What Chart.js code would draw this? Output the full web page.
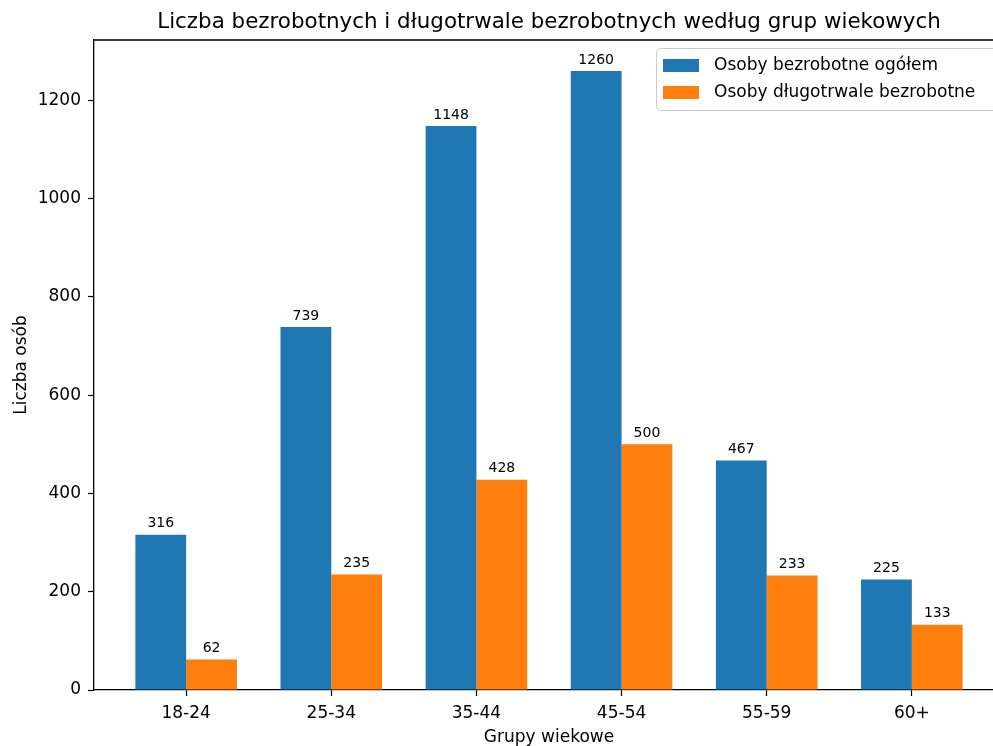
<!DOCTYPE html>
<html lang="pl">
<head>
<meta charset="UTF-8">
<title>Liczba bezrobotnych według grup wiekowych</title>
<script src="https://cdn.jsdelivr.net/npm/chart.js"></script>
<style>
    html, body { margin: 0; padding: 0; background: #fff; overflow: hidden; }
    .wrap { width: 1010px; height: 746px; }
</style>
</head>
<body>
<div class="wrap"><canvas id="chart" width="1010" height="746"></canvas></div>
<script>
// dane
const ageGroups = ['18-24', '25-34', '35-44', '45-54', '55-59', '60+'];
const totalUnemployed = [316, 739, 1148, 1260, 467, 225];
const longTermUnemployed = [62, 235, 428, 500, 233, 133];
const yTicks = [0, 200, 400, 600, 800, 1000, 1200];
const seriesNames = ['Osoby bezrobotne ogółem', 'Osoby długotrwale bezrobotne'];

const BLUE = '#1f77b4';
const ORANGE = '#ff7f0e';
const FONT = "'DejaVu Sans', sans-serif";

Chart.defaults.font.family = FONT;
Chart.defaults.color = '#000';

// tytuł, górna/prawa ramka, etykiety wartości, legenda w ramce
const extras = {
    id: 'extras',
    afterDraw(chart) {
        const ctx = chart.ctx;
        const a = chart.chartArea;
        ctx.save();

        // ramka osi (góra + prawa)
        ctx.strokeStyle = '#000';
        ctx.lineWidth = 1.3;
        ctx.beginPath();
        ctx.moveTo(a.left, a.top);
        ctx.lineTo(a.right, a.top);
        ctx.lineTo(a.right, a.bottom);
        ctx.stroke();

        // tytuł
        ctx.fillStyle = '#000';
        ctx.font = '21.4px ' + FONT;
        ctx.textAlign = 'center';
        ctx.textBaseline = 'middle';
        ctx.fillText('Liczba bezrobotnych i długotrwale bezrobotnych według grup wiekowych', (a.left + a.right) / 2, 22);

        // wartości nad słupkami
        ctx.font = '14px ' + FONT;
        ctx.textBaseline = 'bottom';
        chart.data.datasets.forEach((ds, di) => {
            chart.getDatasetMeta(di).data.forEach((bar, i) => {
                ctx.fillText(String(ds.data[i].y), bar.x, bar.y - 4);
            });
        });

        // legenda
        const lx = 656, ly = 48, lw = 350, lh = 62;
        ctx.fillStyle = 'rgba(255,255,255,0.8)';
        ctx.strokeStyle = '#cccccc';
        ctx.lineWidth = 1;
        ctx.beginPath();
        ctx.roundRect(lx + 0.5, ly + 0.5, lw, lh, 4);
        ctx.fill();
        ctx.stroke();
        ctx.font = '17px ' + FONT;
        ctx.textAlign = 'left';
        ctx.textBaseline = 'middle';
        chart.data.datasets.forEach((ds, di) => {
            const cy = ly + 17.5 + di * 27;
            ctx.fillStyle = ds.backgroundColor;
            ctx.fillRect(lx + 7, cy - 6.5, 36, 13);
            ctx.fillStyle = '#000';
            ctx.fillText(ds.label, lx + 58, cy);
        });
        ctx.restore();
    }
};

new Chart(document.getElementById('chart'), {
    type: 'bar',
    data: {
        datasets: [
            {
                label: seriesNames[0],
                data: totalUnemployed.map((v, i) => ({ x: i, y: v })),
                backgroundColor: BLUE
            },
            {
                label: seriesNames[1],
                data: longTermUnemployed.map((v, i) => ({ x: i, y: v })),
                backgroundColor: ORANGE
            }
        ]
    },
    options: {
        responsive: false,
        animation: false,
        categoryPercentage: 0.7,
        barPercentage: 1.0,
        layout: { padding: { top: 40, right: 6, left: 0, bottom: 0 } },
        plugins: {
            legend: { display: false },
            title: { display: false },
            tooltip: { enabled: false }
        },
        scales: {
            x: {
                type: 'linear',
                offset: false,
                min: -0.635,
                max: 5.635,
                afterBuildTicks: s => { s.ticks = ageGroups.map((_, i) => ({ value: i })); },
                afterFit: s => { s.height = 56; },
                ticks: {
                    callback: v => ageGroups[v],
                    font: { size: 17 },
                    padding: 7,
                    maxRotation: 0,
                    autoSkip: false
                },
                grid: { offset: false, drawOnChartArea: false, tickLength: 6, tickColor: '#000', tickWidth: 1.2 },
                border: { display: true, color: '#000', width: 1.3 },
                title: {
                    display: true,
                    text: 'Grupy wiekowe',
                    font: { size: 17, lineHeight: 1.0 },
                    padding: { top: 0, bottom: 0 }
                }
            },
            y: {
                min: 0,
                max: 1323,
                afterBuildTicks: s => { s.ticks = yTicks.map(v => ({ value: v })); },
                afterFit: s => { s.width = 94; },
                ticks: { font: { size: 17 }, padding: 7, callback: v => String(v) },
                grid: { drawOnChartArea: false, tickLength: 6, tickColor: '#000', tickWidth: 1.2 },
                border: { display: true, color: '#000', width: 1.3 },
                title: {
                    display: true,
                    text: 'Liczba osób',
                    font: { size: 17 },
                    padding: { top: 11, bottom: 0 }
                }
            }
        }
    },
    plugins: [extras]
});
</script>
</body>
</html>
